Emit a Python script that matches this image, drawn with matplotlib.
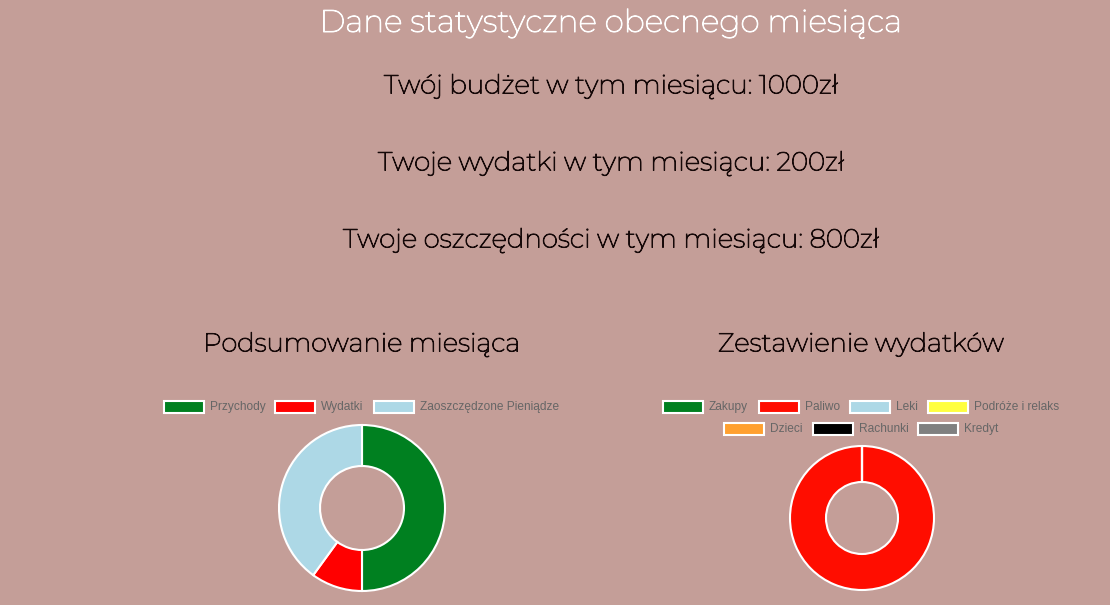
import matplotlib
matplotlib.use("Agg")
import matplotlib.pyplot as plt
from matplotlib.patches import Rectangle
import matplotlib.patheffects as pe

# ---- data ----
title = "Dane statystyczne obecnego miesiąca"
budget = 1000
expenses = 200
savings = 800
info_lines = [
    f"Twój budżet w tym miesiącu: {budget}zł",
    f"Twoje wydatki w tym miesiącu: {expenses}zł",
    f"Twoje oszczędności w tym miesiącu: {savings}zł",
]

summary_title = "Podsumowanie miesiąca"
summary_labels = ["Przychody", "Wydatki", "Zaoszczędzone Pieniądze"]
summary_values = [budget, expenses, savings]
summary_colors = ["#008020", "#ff0000", "#add8e6"]

expense_title = "Zestawienie wydatków"
expense_labels = ["Zakupy", "Paliwo", "Leki", "Podróże i relaks", "Dzieci", "Rachunki", "Kredyt"]
expense_values = [0, 200, 0, 0, 0, 0, 0]
expense_colors = ["#008020", "#ff0d00", "#add8e6", "#ffff40", "#ffa030", "#000000", "#808080"]

# ---- figure ----
W, H = 1110, 605
BG = "#c49e98"
fig = plt.figure(figsize=(W / 100, H / 100), dpi=100, facecolor=BG)
ax = fig.add_axes([0, 0, 1, 1])
ax.set_facecolor(BG)

def Y(py):
    return H - py

HEAD = ["Montserrat", "Open Sans", "DejaVu Sans"]
TXT = "#150808"

def heading(x, y, s, size, color):
    ax.text(x, Y(y), s, ha="center", va="center", color=color,
            fontsize=size, family=HEAD,
            path_effects=[pe.withStroke(linewidth=0.7, foreground=color)])

heading(611, 24, title, 22.5, "white")
for yy, line in zip([86, 163, 240], info_lines):
    heading(611, yy, line, 18.8, TXT)
heading(362, 344, summary_title, 18.6, TXT)
heading(861, 344, expense_title, 18.6, TXT)

# donuts
ax.pie(summary_values, colors=summary_colors, center=(362, Y(508)), radius=83,
       startangle=90, counterclock=False,
       wedgeprops=dict(width=41, edgecolor="white", linewidth=1.5), frame=True)
ax.pie(expense_values, colors=expense_colors, center=(862, Y(518)), radius=72,
       startangle=90, counterclock=False,
       wedgeprops=dict(width=36, edgecolor="white", linewidth=1.5), frame=True)

# legends (Chart.js style boxes)
def legend_item(x, y, color, label):
    ax.add_patch(Rectangle((x, Y(y) - 6), 40, 12, facecolor=color,
                           edgecolor="white", linewidth=1.5))
    ax.text(x + 46, Y(y), label, ha="left", va="center", color="#666666",
            fontsize=8.6, family=["Liberation Sans", "DejaVu Sans"])

left_x = [164, 275, 374]
for x, c, l in zip(left_x, summary_colors, summary_labels):
    legend_item(x, 407, c, l)

right_pos = [(663, 407), (759, 407), (850, 407), (928, 407),
             (724, 429), (813, 429), (918, 429)]
for (x, y), c, l in zip(right_pos, expense_colors, expense_labels):
    legend_item(x, y, c, l)

ax.set_xlim(0, W)
ax.set_ylim(0, H)
ax.set_aspect("auto")
ax.axis("off")

fig.savefig("out.png", dpi=100, facecolor=BG)
